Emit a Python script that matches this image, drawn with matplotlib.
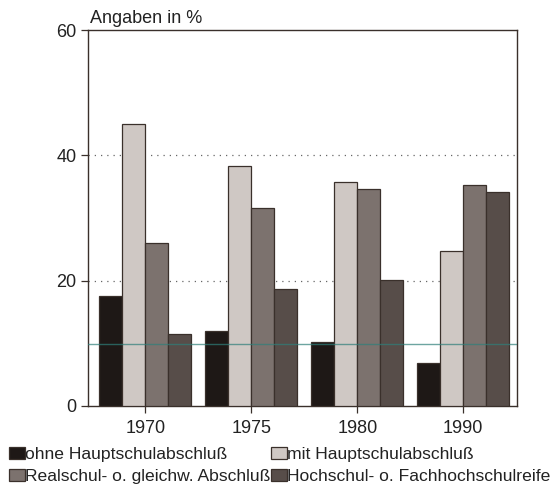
import matplotlib.pyplot as plt
import numpy as np

years = ["1970", "1975", "1980", "1990"]
series_names = [
    "ohne Hauptschulabschluß",
    "mit Hauptschulabschluß",
    "Realschul- o. gleichw. Abschluß",
    "Hochschul- o. Fachhochschulreife",
]
ohne = [17.5, 12.0, 10.2, 6.9]
mit = [45.0, 38.3, 35.7, 24.7]
real = [26.0, 31.6, 34.6, 35.2]
hoch = [11.5, 18.6, 20.1, 34.1]
y_ticks = [0, 20, 40, 60]

colors = ["#1e1816", "#cfc8c4", "#7c726e", "#574d49"]
edge = "#3a302b"


def main():
    plt.rcParams["font.family"] = ["Liberation Sans", "DejaVu Sans"]
    fig = plt.figure(figsize=(5.58, 4.86), dpi=100)
    ax = fig.add_axes([0.158, 0.165, 0.769, 0.773])

    x = np.arange(len(years))
    w = 0.217
    handles = []
    for i, (vals, name) in enumerate(zip([ohne, mit, real, hoch], series_names)):
        b = ax.bar(x + (i - 1.5) * w, vals, w, color=colors[i], edgecolor=edge,
                   linewidth=0.9, label=name, zorder=3)
        handles.append(b)

    ax.set_xlim(-0.538, 3.509)
    ax.set_ylim(0, 60)
    ax.set_yticks(y_ticks)
    ax.set_xticks(x)
    ax.set_xticklabels(years)
    for v in [20, 40]:
        ax.axhline(v, color="#666", linestyle=(0, (1, 4)), linewidth=0.9, zorder=1)
    # faint line across the scan
    ax.axhline(9.8, color="#2f7f7a", linewidth=1.0, alpha=0.7, zorder=4)

    for s in ax.spines.values():
        s.set_color(edge)
        s.set_linewidth(1.0)
    ax.tick_params(axis="both", colors=edge, labelcolor="#222", labelsize=13,
                   length=5, width=0.9)
    ax.tick_params(axis="x", pad=5)

    fig.text(0.162, 0.952, "Angaben in %", fontsize=13, color="#222")

    order = [0, 2, 1, 3]
    fig.legend([handles[i] for i in order], [series_names[i] for i in order],
               loc="lower left", bbox_to_anchor=(-0.003, -0.018), ncol=2,
               frameon=False, fontsize=12.6, handlelength=0.9, handleheight=0.7,
               handletextpad=0.05, columnspacing=0.0, labelspacing=0.4,
               borderaxespad=0.2, labelcolor="#222")

    fig.savefig("out.png", dpi=100)


if __name__ == "__main__":
    main()
